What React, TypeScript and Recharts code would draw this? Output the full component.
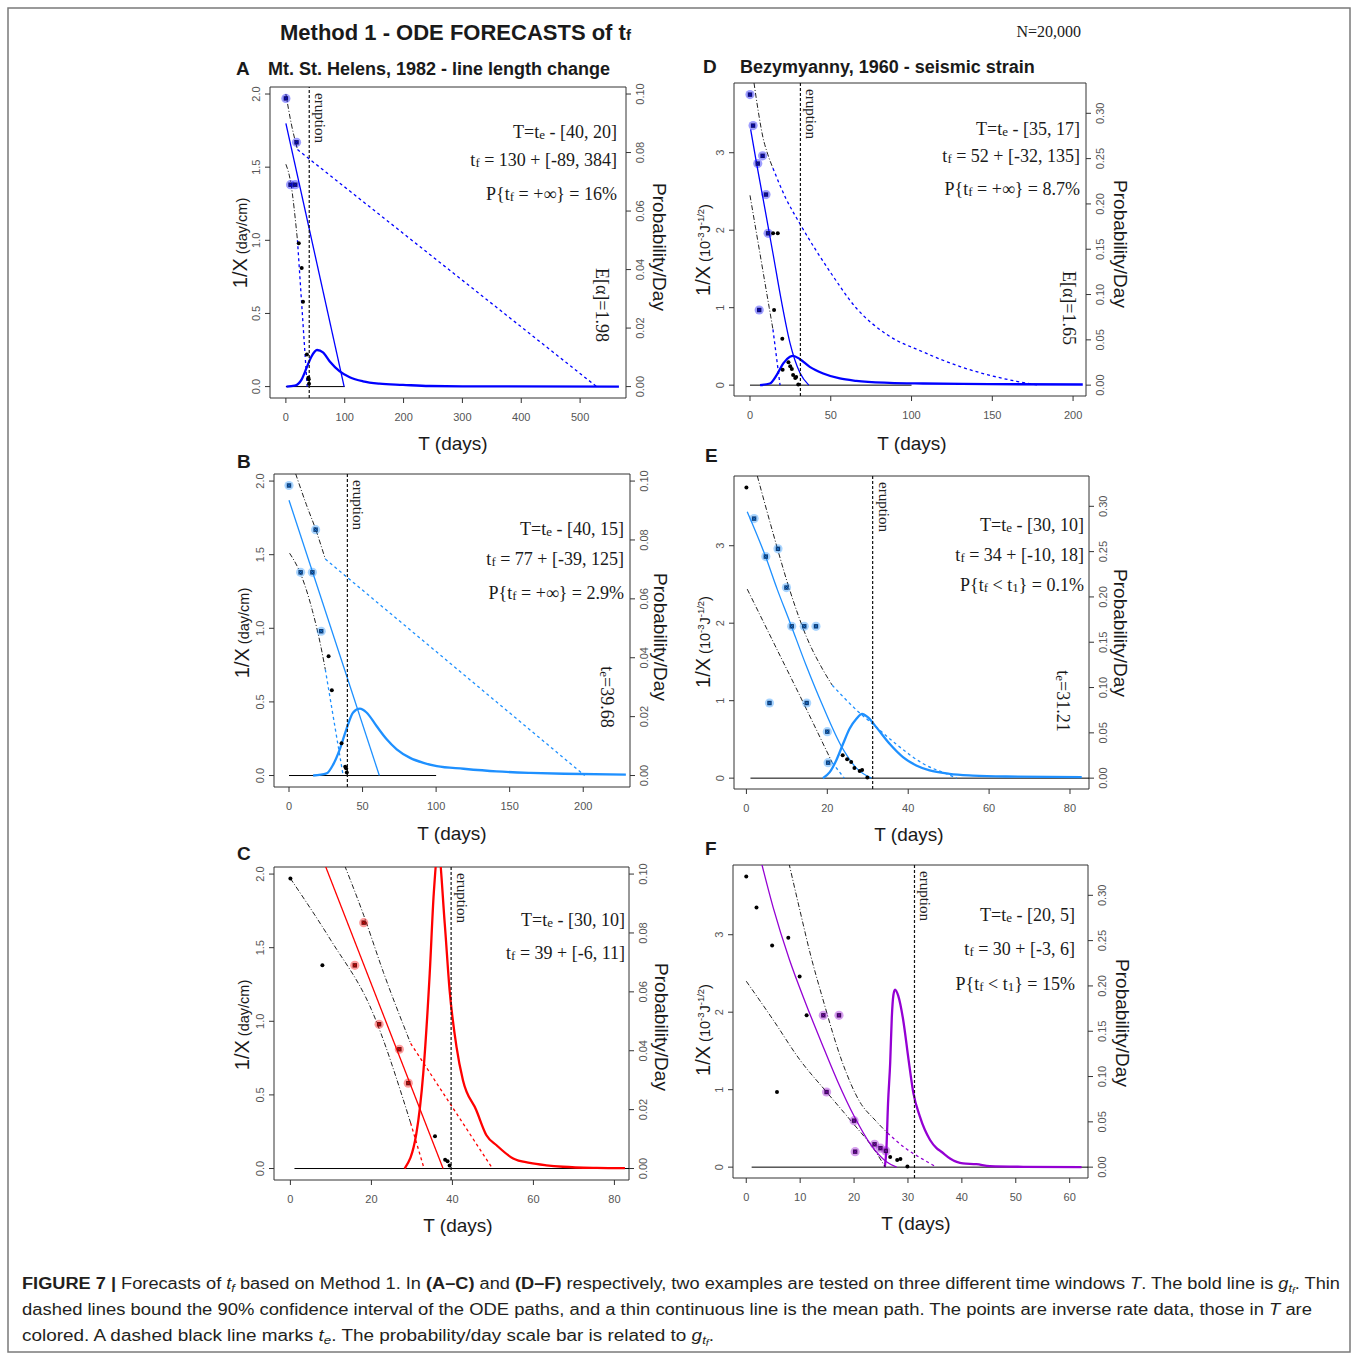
import React from "react"
import { ComposedChart, Line, Scatter, XAxis, YAxis, ReferenceLine, ReferenceArea } from "recharts"

const SANS = "'Liberation Sans', Arial, Helvetica, sans-serif"
const SERIF = "'Liberation Serif', 'Times New Roman', serif"
const NARROW = "'Liberation Sans Narrow', 'Arial Narrow', 'Liberation Sans', Arial, sans-serif"

type Pair = [number, number]

// Mt. St. Helens 1982: inverse rate data (T days, 1/X day/cm)
const helensT = [0, 7.9, 15.9, 18.1, 21.9, 26.9, 29.1, 35.7, 38.2, 38.8, 39.3]
const helensInv = [1.97, 1.38, 1.38, 1.67, 0.98, 0.81, 0.58, 0.22, 0.06, 0.05, 0.02]
const helensTe = 39.68

// Bezymyanny 1960: inverse rate data (T days, 1/X 10^-3 J^-1/2)
const bezyT = [0, 1.9, 4.8, 5.7, 7.8, 9.9, 11.2, 14.3, 14.9, 17.2, 20, 20.2, 23.8, 24.9, 25.9, 26.7, 28, 28.6, 29.9]
const bezyInv = [3.75, 3.35, 2.86, 0.97, 2.96, 2.46, 1.96, 1.96, 0.97, 1.96, 0.6, 0.2, 0.295, 0.245, 0.21, 0.13, 0.093, 0.105, 0.01]
const bezyTe = 31.21

// time windows T = te - [a, b]
const winA = [40, 20]
const winB = [40, 15]
const winC = [30, 10]
const winD = [35, 17]
const winE = [30, 10]
const winF = [20, 5]

// mean paths, 90% bounds, g_tf densities
const meanA: Pair[] = [[0, 1.8], [99, 0]]
const upperA: Pair[] = [[0, 2.0], [9, 1.8], [19.68, 1.62], [528, 0]]
const lowerA: Pair[] = [[0, 1.52], [8, 1.4], [19.68, 1.0], [36.2, 0]]
const densA: Pair[] = [[1, 0], [15, 0.0003], [26.6, 0.0024], [35, 0.0063], [43.5, 0.0103], [53, 0.0125], [63, 0.0117], [74.6, 0.0086], [91.5, 0.0052], [108.5, 0.0032], [131, 0.0018], [159, 0.001], [199, 0.0006], [244, 0.0002], [300, 0.0001], [566, 0]]

const meanB: Pair[] = [[0, 1.87], [61.4, 0]]
const upperB: Pair[] = [[4.5, 2.05], [11.8, 1.84], [18.2, 1.67], [24.68, 1.47], [201, 0]]
const lowerB: Pair[] = [[0.4, 1.51], [7.9, 1.37], [15.9, 1.12], [22, 0.86], [24.68, 0.72], [36.8, 0]]
const densB: Pair[] = [[16.4, 0], [25.5, 0.0007], [30, 0.0037], [34.5, 0.0089], [39, 0.0157], [43.6, 0.0214], [48.2, 0.0227], [52.7, 0.0214], [59.5, 0.0168], [66.4, 0.0123], [73.2, 0.0089], [82.3, 0.006], [91.4, 0.0043], [100.5, 0.0032], [118.6, 0.0023], [141, 0.0014], [164, 0.0009], [187, 0.0006], [229, 0.0003]]

const meanC: Pair[] = [[8, 2.1], [37.7, 0]]
const upperC: Pair[] = [[12.5, 2.12], [18.1, 1.72], [23, 1.33], [29.68, 0.85], [49.9, 0]]
const lowerC: Pair[] = [[0, 1.97], [10, 1.55], [20, 1.08], [29.68, 0.31], [33, 0]]
const densC: Pair[] = [[28.2, 0], [31.1, 0.0119], [32.8, 0.0323], [34.4, 0.0663], [35.4, 0.0935], [36.5, 0.108], [38.1, 0.0833], [39.3, 0.0607], [41, 0.0414], [42.6, 0.03], [45.9, 0.0198], [48.4, 0.0113], [50.9, 0.0079], [55, 0.0034], [59.1, 0.0019], [63.2, 0.0011], [67.3, 0.0006], [75.6, 0.0002], [82.6, 0.0001]]

const meanD: Pair[] = [[0.4, 3.3], [4.1, 2.86], [9.3, 2.27], [14.4, 1.68], [19.5, 1.08], [24.7, 0.55], [30.9, 0.16], [36.4, 0]]
const upperD: Pair[] = [[2.5, 3.9], [5, 3.55], [8, 3.2], [11, 2.98], [14.21, 2.8], [22, 2.42], [31, 2.08], [50, 1.45], [66, 0.99], [85, 0.65], [107, 0.43], [130, 0.24], [148, 0.13], [165, 0.05], [179, 0]]
const lowerD: Pair[] = [[0, 2.45], [6, 1.72], [11.9, 1.0], [14.21, 0.72], [18.6, 0]]
const densD: Pair[] = [[6.2, 0], [12.3, 0.0018], [16.5, 0.011], [20.6, 0.024], [24.7, 0.0313], [26.7, 0.0324], [30.9, 0.0287], [37, 0.0202], [45.3, 0.0129], [55.6, 0.0074], [65.8, 0.0048], [86.4, 0.0026], [107, 0.0018], [148, 0.0011], [206, 0.0007]]

const meanE: Pair[] = [[0.2, 3.44], [4.6, 2.88], [7.6, 2.44], [10.7, 2.02], [14.8, 1.45], [18.9, 0.93], [23.7, 0.39], [27.2, 0.13], [30.9, 0]]
const upperE: Pair[] = [[2.7, 3.9], [6.6, 3.16], [10.7, 2.43], [14.8, 1.83], [18.9, 1.4], [21.21, 1.2], [27.2, 0.88], [32.1, 0.66], [37, 0.44], [43.6, 0.19], [50.2, 0.04], [52, 0]]
const lowerE: Pair[] = [[0.2, 2.44], [7, 1.72], [14, 0.98], [21.21, 0.2], [24.2, 0]]
const densE: Pair[] = [[18.9, 0], [20.6, 0.0066], [22.2, 0.0195], [23.9, 0.0379], [25.5, 0.0545], [27.2, 0.0655], [28.6, 0.071], [30, 0.0673], [32.1, 0.0563], [35.4, 0.0379], [38.7, 0.0232], [42, 0.014], [45.3, 0.0085], [50.2, 0.0048], [56, 0.0029], [64.2, 0.0018], [82.9, 0.0011]]

const meanF: Pair[] = [[2.2, 4.1], [5, 3.35], [8, 2.68], [11, 2.12], [14, 1.6], [17, 1.1], [20, 0.66], [23, 0.3], [26, 0.07], [27.9, 0]]
const upperF: Pair[] = [[7.5, 4.05], [10, 3.3], [12, 2.72], [14, 2.22], [18, 1.32], [21, 0.85], [24, 0.6], [26.21, 0.44], [29.8, 0.23], [32.8, 0.1], [35.3, 0]]
const lowerF: Pair[] = [[0, 2.4], [5, 1.9], [10, 1.38], [14.9, 0.97], [20, 0.55], [23.5, 0.25], [25.8, 0]]
const densF: Pair[] = [[25.7, 0], [26, 0.02], [26.3, 0.07], [26.7, 0.115], [27, 0.165], [27.3, 0.19], [27.6, 0.196], [28.2, 0.189], [29.1, 0.163], [30.1, 0.119], [31, 0.082], [32.2, 0.056], [34.1, 0.03], [35.3, 0.021], [36.2, 0.017], [37.8, 0.0096], [40.2, 0.0041], [42.7, 0.0033], [45.2, 0.0011], [51.4, 0.0004], [62.2, 0]]

const zeroAB: Pair[] = [[0, 0], [100, 0]]
const zeroCF: Pair[] = [[1, 0], [100, 0]]

// axis ticks
const xTicksA = [0, 100, 200, 300, 400, 500]
const xTicksB = [0, 50, 100, 150, 200]
const xTicksC = [0, 20, 40, 60, 80]
const xTicksD = [0, 50, 100, 150, 200]
const xTicksE = [0, 20, 40, 60, 80]
const xTicksF = [0, 10, 20, 30, 40, 50, 60]
const yTicksCm = [0, 0.5, 1, 1.5, 2]
const rTicksCm = [0, 0.02, 0.04, 0.06, 0.08, 0.1]
const yTicksJ = [0, 1, 2, 3]
const rTicksJ = [0, 0.05, 0.1, 0.15, 0.2, 0.25, 0.3]

type Seg = [string, { s?: number; y?: number; b?: boolean; i?: boolean }?]

const BLUE = "#0000ff"
const DODGER = "#1e90ff"
const RED = "#ff0000"
const PURPLE = "#9400d3"

const sub = (t: string): Seg => [t, { s: 0.72, y: 1 }]

const panels = [
  {
    id: "A", color: BLUE, inner: "#10106a", box: [270, 87, 626, 398], xDom: [-27, 578], xTicks: xTicksA,
    yDom: [-0.078, 2.048], yTicks: yTicksCm, yDec: 1, ratio: 0.05, rTicks: rTicksCm, rDec: 2,
    tt: helensT, vv: helensInv, te: helensTe, win: winA, mean: meanA, upper: upperA, lower: lowerA, dens: densA, zero: zeroAB,
    letterX: 236, titleX: 268, titleY: 75, title: "Mt. St. Helens, 1982 - line length change", unit: "cm",
    yLab: [247, 243], rLab: [653, 247], xLab: [453, 450], annX: 617, annY: [138, 166, 200],
    ann: [
      [["T=t"], sub("e"), [" - [40, 20]"]],
      [["t"], sub("f"), [" = 130 + [-89, 384]"]],
      [["P{t"], sub("f"), [" = +\u221e} = 16%"]],
    ] as Seg[][],
    rot: { x: 596, y: 305, segs: [["E[\u03b1]=1.98"]] as Seg[] },
  },
  {
    id: "B", color: DODGER, inner: "#0c3870", box: [274, 474, 630, 787], xDom: [-10.2, 231.8], xTicks: xTicksB,
    yDom: [-0.078, 2.048], yTicks: yTicksCm, yDec: 1, ratio: 0.05, rTicks: rTicksCm, rDec: 2,
    tt: helensT, vv: helensInv, te: helensTe, win: winB, mean: meanB, upper: upperB, lower: lowerB, dens: densB, zero: zeroAB,
    letterX: 237, titleX: 0, titleY: 468, title: "", unit: "cm",
    yLab: [249, 633], rLab: [654, 637], xLab: [452, 840], annX: 624, annY: [535, 565, 599],
    ann: [
      [["T=t"], sub("e"), [" - [40, 15]"]],
      [["t"], sub("f"), [" = 77 + [-39, 125]"]],
      [["P{t"], sub("f"), [" = +\u221e} = 2.9%"]],
    ] as Seg[][],
    rot: { x: 601, y: 697, segs: [["t"], sub("e"), ["=39.68"]] as Seg[] },
  },
  {
    id: "C", color: RED, inner: "#701010", box: [274, 867, 629, 1180], xDom: [-4.05, 83.6], xTicks: xTicksC,
    yDom: [-0.078, 2.048], yTicks: yTicksCm, yDec: 1, ratio: 0.05, rTicks: rTicksCm, rDec: 2,
    tt: helensT, vv: helensInv, te: helensTe, win: winC, mean: meanC, upper: upperC, lower: lowerC, dens: densC, zero: zeroCF,
    letterX: 237, titleX: 0, titleY: 860, title: "", unit: "cm",
    yLab: [249, 1025], rLab: [655, 1027], xLab: [458, 1232], annX: 625, annY: [926, 959],
    ann: [
      [["T=t"], sub("e"), [" - [30, 10]"]],
      [["t"], sub("f"), [" = 39 + [-6, 11]"]],
    ] as Seg[][],
    rot: null,
  },
  {
    id: "D", color: BLUE, inner: "#10106a", box: [734, 83, 1086, 396], xDom: [-9.9, 208], xTicks: xTicksD,
    yDom: [-0.14, 3.9], yTicks: yTicksJ, yDec: 0, ratio: 0.0855, rTicks: rTicksJ, rDec: 2,
    tt: bezyT, vv: bezyInv, te: bezyTe, win: winD, mean: meanD, upper: upperD, lower: lowerD, dens: densD, zero: zeroAB,
    letterX: 703, titleX: 740, titleY: 73, title: "Bezymyanny, 1960 - seismic strain", unit: "J",
    yLab: [710, 250], rLab: [1114, 244], xLab: [912, 450], annX: 1080, annY: [135, 162, 195],
    ann: [
      [["T=t"], sub("e"), [" - [35, 17]"]],
      [["t"], sub("f"), [" = 52 + [-32, 135]"]],
      [["P{t"], sub("f"), [" = +\u221e} = 8.7%"]],
    ] as Seg[][],
    rot: { x: 1063, y: 308, segs: [["E[\u03b1]=1.65"]] as Seg[] },
  },
  {
    id: "E", color: DODGER, inner: "#0c3870", box: [734, 476, 1089, 789], xDom: [-3.07, 84.7], xTicks: xTicksE,
    yDom: [-0.14, 3.9], yTicks: yTicksJ, yDec: 0, ratio: 0.0855, rTicks: rTicksJ, rDec: 2,
    tt: bezyT, vv: bezyInv, te: bezyTe, win: winE, mean: meanE, upper: upperE, lower: lowerE, dens: densE, zero: zeroCF,
    letterX: 705, titleX: 0, titleY: 462, title: "", unit: "J",
    yLab: [710, 642], rLab: [1114, 633], xLab: [909, 841], annX: 1084, annY: [531, 561, 591],
    ann: [
      [["T=t"], sub("e"), [" - [30, 10]"]],
      [["t"], sub("f"), [" = 34 + [-10, 18]"]],
      [["P{t"], sub("f"), [" < t"], sub("1"), ["} = 0.1%"]],
    ] as Seg[][],
    rot: { x: 1057, y: 701, segs: [["t"], sub("e"), ["=31.21"]] as Seg[] },
  },
  {
    id: "F", color: PURPLE, inner: "#3c0a5a", box: [733, 865, 1088, 1178], xDom: [-2.46, 63.4], xTicks: xTicksF,
    yDom: [-0.14, 3.9], yTicks: yTicksJ, yDec: 0, ratio: 0.0855, rTicks: rTicksJ, rDec: 2,
    tt: bezyT, vv: bezyInv, te: bezyTe, win: winF, mean: meanF, upper: upperF, lower: lowerF, dens: densF, zero: zeroCF,
    letterX: 705, titleX: 0, titleY: 855, title: "", unit: "J",
    yLab: [710, 1030], rLab: [1116, 1023], xLab: [916, 1230], annX: 1075, annY: [921, 955, 990],
    ann: [
      [["T=t"], sub("e"), [" - [20, 5]"]],
      [["t"], sub("f"), [" = 30 + [-3, 6]"]],
      [["P{t"], sub("f"), [" < t"], sub("1"), ["} = 15%"]],
    ] as Seg[][],
    rot: null,
  },
]

const rows = (p: Pair[]) => p.map(([t, v]) => ({ t, v }))
const splitAt = (p: Pair[], end: number) => [p.filter((q) => q[0] <= end), p.filter((q) => q[0] >= end)]

function spans(list: Seg[], size: number) {
  let cur = 0
  return list.map(([txt, o = {}], k) => {
    const target = o.y ?? 0
    const dy = target - cur
    cur = target
    return (
      <tspan key={k} dy={dy} fontSize={size * (o.s ?? 1)} fontWeight={o.b ? "bold" : undefined} fontStyle={o.i ? "italic" : undefined}>
        {txt}
      </tspan>
    )
  })
}

const leftTick = (dec: number) => (props: any) => {
  const { x, y, payload } = props
  return (
    <text x={x} y={y} transform={`rotate(-90 ${x} ${y})`} textAnchor="middle" fontSize={11} fill="#555" fontFamily={SANS}>
      {Number(payload.value).toFixed(dec)}
    </text>
  )
}
const rightTick = (dec: number) => (props: any) => {
  const x = props.x + 8
  const y = props.y
  return (
    <text x={x} y={y} transform={`rotate(-90 ${x} ${y})`} textAnchor="middle" fontSize={11} fill="#555" fontFamily={SANS}>
      {Number(props.payload.value).toFixed(dec)}
    </text>
  )
}

const eruptionLabel = (props: any) => {
  const vb = props.viewBox || {}
  const x = (vb.x ?? 0) + 6
  const y = (vb.y ?? 0) + 6
  return (
    <text x={x} y={y} transform={`rotate(90 ${x} ${y})`} fontFamily={SERIF} fontSize={15} fill="#222">
      eruption
    </text>
  )
}

const pointShape = (color: string, inner: string) => (props: any) => {
  const { cx, cy, payload } = props
  if (cx == null || cy == null) return <g />
  if (!payload.c) return <circle cx={cx} cy={cy} r={2} fill="#000" />
  return (
    <g>
      <circle cx={cx} cy={cy} r={4.6} fill={color} fillOpacity={0.38} />
      <rect x={cx - 2.2} y={cy - 2.2} width={4.4} height={4.4} fill={inner} />
      <path d={`M${cx - 1.3},${cy - 1.3}L${cx + 1.3},${cy + 1.3}M${cx - 1.3},${cy + 1.3}L${cx + 1.3},${cy - 1.3}`} stroke={color} strokeWidth={0.6} />
    </g>
  )
}

function Panel({ p }: { p: (typeof panels)[number] }) {
  const [l, t, r, b] = p.box
  const W = r - l
  const H = b - t
  const PL = 50
  const PR = 50
  const PT = 10
  const PB = 34
  const rDom = [p.yDom[0] * p.ratio, p.yDom[1] * p.ratio]
  const lo = p.te - p.win[0]
  const hi = p.te - p.win[1]
  const pts = p.tt.map((tt, i) => ({ t: tt, v: p.vv[i], c: tt >= lo && tt <= hi }))
  const [upIn, upOut] = splitAt(p.upper, hi)
  const [lowIn, lowOut] = splitAt(p.lower, hi)
  const dashDot = { stroke: "#222", strokeWidth: 1, strokeDasharray: "5 2 1 2" }
  const dashed = { stroke: p.color, strokeWidth: 1.3, strokeDasharray: "3 3" }
  return (
    <div style={{ position: "absolute", left: l - PL, top: t - PT }}>
      <ComposedChart width={W + PL + PR} height={H + PT + PB} margin={{ top: PT, right: 0, bottom: 0, left: 0 }}>
        <XAxis type="number" dataKey="t" domain={p.xDom} ticks={p.xTicks} allowDataOverflow interval={0} height={PB}
          axisLine={false} tickLine={{ stroke: "#333" }} tickSize={5} tickMargin={10}
          tick={{ fontSize: 11, fill: "#555", fontFamily: SANS }} />
        <YAxis yAxisId="l" type="number" domain={p.yDom} ticks={p.yTicks} allowDataOverflow interval={0} width={PL}
          axisLine={false} tickLine={{ stroke: "#333" }} tickSize={5} tickMargin={5} tick={leftTick(p.yDec)} />
        <YAxis yAxisId="r" orientation="right" type="number" domain={rDom} ticks={p.rTicks} allowDataOverflow interval={0} width={PR}
          axisLine={false} tickLine={{ stroke: "#333" }} tickSize={5} tickMargin={5} tick={rightTick(p.rDec)} />
        <Line yAxisId="l" data={rows(p.zero)} dataKey="v" type="linear" stroke="#000" strokeWidth={1} dot={false} isAnimationActive={false} />
        <Line yAxisId="r" data={rows(p.dens)} dataKey="v" type="monotone" stroke={p.color} strokeWidth={2.3} dot={false} isAnimationActive={false} />
        <Line yAxisId="l" data={rows(upIn)} dataKey="v" type="monotone" {...dashDot} dot={false} isAnimationActive={false} />
        <Line yAxisId="l" data={rows(upOut)} dataKey="v" type="monotone" {...dashed} dot={false} isAnimationActive={false} />
        <Line yAxisId="l" data={rows(lowIn)} dataKey="v" type="monotone" {...dashDot} dot={false} isAnimationActive={false} />
        <Line yAxisId="l" data={rows(lowOut)} dataKey="v" type="monotone" {...dashed} dot={false} isAnimationActive={false} />
        <Line yAxisId="l" data={rows(p.mean)} dataKey="v" type="monotone" stroke={p.color} strokeWidth={1.3} dot={false} isAnimationActive={false} />
        <Scatter yAxisId="l" data={pts} dataKey="v" shape={pointShape(p.color, p.inner)} isAnimationActive={false} />
        <ReferenceLine yAxisId="l" x={p.te} stroke="#111" strokeWidth={1.2} strokeDasharray="3 2" ifOverflow="visible" label={eruptionLabel} />
        <ReferenceArea yAxisId="l" x1={p.xDom[0]} x2={p.xDom[1]} y1={p.yDom[0]} y2={p.yDom[1]} fill="none" fillOpacity={0} stroke="#333" strokeWidth={1} ifOverflow="visible" />
      </ComposedChart>
    </div>
  )
}

function PanelText({ p }: { p: (typeof panels)[number] }) {
  const [yx, yy] = p.yLab
  const [rx, ry] = p.rLab
  return (
    <g fill="#1a1a1a">
      <text x={p.letterX} y={p.titleY} fontFamily={SANS} fontWeight="bold" fontSize={19}>{p.id}</text>
      {p.title && (
        <text x={p.titleX} y={p.titleY} fontFamily={SANS} fontWeight="bold" fontSize={18}>{p.title}</text>
      )}
      <text x={yx} y={yy} transform={`rotate(-90 ${yx} ${yy})`} textAnchor="middle" fontFamily={SANS}>
        <tspan fontSize={20}>1/X</tspan>
        {p.unit === "cm" ? (
          <tspan fontSize={14.5}> (day/cm)</tspan>
        ) : (
          <>
            <tspan fontSize={14.5}> (10</tspan>
            <tspan fontSize={9.5} dy={-6}>-3</tspan>
            <tspan fontSize={14.5} dy={6}>J</tspan>
            <tspan fontSize={9.5} dy={-6}>-1/2</tspan>
            <tspan fontSize={14.5} dy={6}>)</tspan>
          </>
        )}
      </text>
      <text x={rx} y={ry} transform={`rotate(90 ${rx} ${ry})`} textAnchor="middle" fontFamily={SANS} fontSize={19}>Probability/Day</text>
      <text x={p.xLab[0]} y={p.xLab[1]} textAnchor="middle" fontFamily={SANS} fontSize={19}>T (days)</text>
      {p.ann.map((line, i) => (
        <text key={i} x={p.annX} y={p.annY[i]} textAnchor="end" fontFamily={SERIF} style={{ whiteSpace: "pre" }}>
          {spans(line, 18)}
        </text>
      ))}
      {p.rot && (
        <text x={p.rot.x} y={p.rot.y} transform={`rotate(90 ${p.rot.x} ${p.rot.y})`} textAnchor="middle" fontFamily={SERIF} style={{ whiteSpace: "pre" }}>
          {spans(p.rot.segs, 18)}
        </text>
      )}
    </g>
  )
}

const cap1: Seg[] = [
  ["FIGURE 7 |", { b: true }], [" Forecasts of "], ["t", { i: true }], ["f", { i: true, s: 0.7, y: 3 }],
  [" based on Method 1. In "], ["(A\u2013C)", { b: true }], [" and "], ["(D\u2013F)", { b: true }],
  [" respectively, two examples are tested on three different time windows "], ["T", { i: true }],
  [". The bold line is "], ["g", { i: true }], ["t", { i: true, s: 0.7, y: 3 }], ["f", { i: true, s: 0.55, y: 5 }], [". Thin"],
]
const cap2: Seg[] = [
  ["dashed lines bound the 90% confidence interval of the ODE paths, and a thin continuous line is the mean path. The points are inverse rate data, those in "],
  ["T", { i: true }], [" are"],
]
const cap3: Seg[] = [
  ["colored. A dashed black line marks "], ["t", { i: true }], ["e", { i: true, s: 0.7, y: 3 }],
  [". The probability/day scale bar is related to "], ["g", { i: true }], ["t", { i: true, s: 0.7, y: 3 }], ["f", { i: true, s: 0.55, y: 5 }], ["."],
]

function Overlay() {
  return (
    <svg width={1358} height={1355} style={{ position: "absolute", left: 0, top: 0, pointerEvents: "none" }}>
      <rect x={8} y={8} width={1342} height={1344} fill="none" stroke="#7a7a7a" strokeWidth={1.5} />
      <text x={280} y={40} fontFamily={SANS} fontWeight="bold" fontSize={22} fill="#1a1a1a">
        Method 1 - ODE FORECASTS of t<tspan fontSize={15}>f</tspan>
      </text>
      <text x={1081} y={37} textAnchor="end" fontFamily={SERIF} fontSize={16} fill="#1a1a1a">N=20,000</text>
      {panels.map((p) => <PanelText key={p.id} p={p} />)}
      <g fill="#231f20" fontFamily={NARROW} style={{ whiteSpace: "pre" }}>
        <text x={22} y={1289} textLength={1318} lengthAdjust="spacingAndGlyphs">{spans(cap1, 16)}</text>
        <text x={22} y={1315} textLength={1290} lengthAdjust="spacingAndGlyphs">{spans(cap2, 16)}</text>
        <text x={22} y={1341} textLength={692} lengthAdjust="spacingAndGlyphs">{spans(cap3, 16)}</text>
      </g>
    </svg>
  )
}

export default function App() {
  return (
    <div style={{ position: "absolute", left: 0, top: 0, width: 1358, height: 1355, background: "#fff" }}>
      {panels.map((p) => <Panel key={p.id} p={p} />)}
      <Overlay />
    </div>
  )
}
